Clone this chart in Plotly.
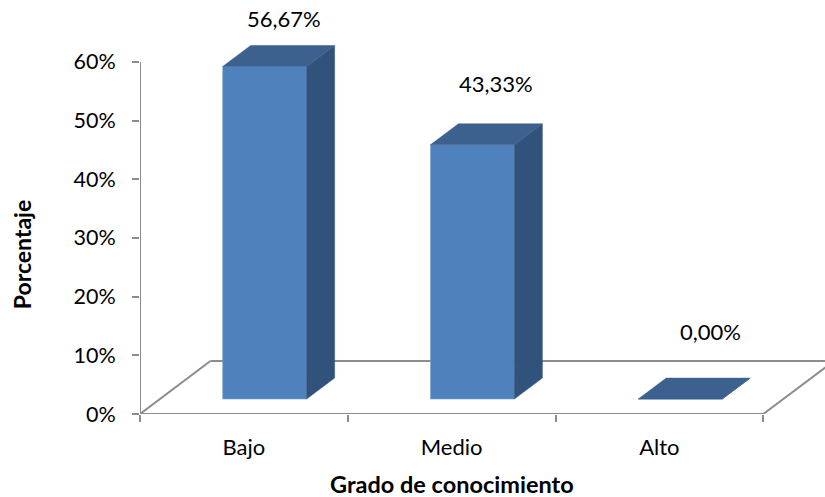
import plotly.graph_objects as go

categories = ["Bajo", "Medio", "Alto"]
values = [56.67, 43.33, 0.0]
value_labels = ["56,67%", "43,33%", "0,00%"]
y_ticks = [0, 10, 20, 30, 40, 50, 60]
y_tick_labels = ["0%", "10%", "20%", "30%", "40%", "50%", "60%"]
x_title = "Grado de conocimiento"
y_title = "Porcentaje"

FONT = "Lato, Carlito, Calibri, sans-serif"
GREY = "#8C8C8C"
FRONT = "#4F81BD"
SIDE = "#31527A"
TOP = "#3C618F"

# projection of the oblique 3D look, in axis units
FLOOR_DX, FLOOR_DY = 0.339, 9.02
BAR_DX, BAR_DY = 0.1347, 3.57
BAR_LIFT = 2.55
BAR_LEFT, BAR_W = 0.398, 0.404
LABEL_SHIFT_Y = [27, 40, 47]
LABEL_SHIFT_X = [-4, 0, 7]
X_MAX, Y_MAX = 3.297, 70.55

fig = go.Figure()

lefts = [i + BAR_LEFT for i in range(len(categories))]
rights = [l + BAR_W for l in lefts]

fig.add_trace(go.Bar(
    x=[l + BAR_W / 2 for l in lefts], y=values, base=[BAR_LIFT] * len(values),
    width=[BAR_W] * len(values), marker=dict(color=FRONT, line=dict(color="#7FA3D0", width=0.6)),
    hoverinfo="skip", showlegend=False))

for l, r, v in zip(lefts, rights, values):
    t = BAR_LIFT + v
    fig.add_trace(go.Scatter(
        x=[r, r + BAR_DX, r + BAR_DX, r, r], y=[BAR_LIFT, BAR_LIFT + BAR_DY, t + BAR_DY, t, BAR_LIFT],
        mode="lines", fill="toself", fillcolor=SIDE, line=dict(color=SIDE, width=0.5),
        hoverinfo="skip", showlegend=False))
    fig.add_trace(go.Scatter(
        x=[l, l + BAR_DX, r + BAR_DX, r, l], y=[t, t + BAR_DY, t + BAR_DY, t, t],
        mode="lines", fill="toself", fillcolor=TOP, line=dict(color=TOP, width=0.5),
        hoverinfo="skip", showlegend=False))

n = len(categories)
line = dict(color=GREY, width=2)
shapes = [
    dict(type="line", layer="below", x0=0, y0=0, x1=FLOOR_DX, y1=FLOOR_DY, line=line),
    dict(type="line", layer="below", x0=FLOOR_DX, y0=FLOOR_DY, x1=X_MAX, y1=FLOOR_DY, line=line),
    dict(type="line", layer="below", x0=n, y0=0, x1=n + FLOOR_DX, y1=FLOOR_DY, line=line),
    dict(type="line", layer="below", x0=0, y0=0, x1=n, y1=0, line=line),
    dict(type="line", layer="below", x0=0, y0=0, x1=0, y1=max(y_ticks), line=line),
]

annotations = [
    dict(x=l + BAR_W / 2 + BAR_DX * 0.85, y=BAR_LIFT + v + BAR_DY, text=s,
         xshift=sx, yshift=sy, yanchor="middle",
         showarrow=False, font=dict(family=FONT, size=22, color="#000000"))
    for l, v, s, sx, sy in zip(lefts, values, value_labels, LABEL_SHIFT_X, LABEL_SHIFT_Y)
]
annotations += [
    dict(xref="paper", yref="paper", x=(451.5 - 139.5) / 685.5, y=(414.5 - 485) / 414.5, text=f"<b>{x_title}</b>",
         xanchor="center", yanchor="middle", showarrow=False, font=dict(family=FONT, size=23.5, color="#000000")),
    dict(xref="paper", yref="paper", x=(21 - 139.5) / 685.5, y=(414.5 - 255) / 414.5, text=f"<b>{y_title}</b>",
         xanchor="center", yanchor="middle", textangle=-90, showarrow=False,
         font=dict(family=FONT, size=23, color="#000000")),
]

fig.update_layout(
    width=825, height=497, autosize=False, showlegend=False,
    margin=dict(l=139.5, r=0, t=0, b=82.5, autoexpand=False),
    paper_bgcolor="white", plot_bgcolor="white", shapes=shapes, annotations=annotations,
    xaxis=dict(range=[0, X_MAX], tickmode="array", tickvals=[i + 0.5 for i in range(n)], ticktext=categories,
               ticks="", showgrid=False, zeroline=False, showline=False, ticklabelstandoff=18,
               tickfont=dict(family=FONT, size=22, color="#000000"),
               minor=dict(tickmode="array", tickvals=list(range(n + 1)), ticks="outside", ticklen=7,
                          tickcolor=GREY, tickwidth=2, showgrid=False)),
    yaxis=dict(range=[0, Y_MAX], tickmode="array", tickvals=y_ticks, ticktext=y_tick_labels,
               ticks="outside", ticklen=7, tickcolor=GREY, tickwidth=2, showgrid=False, zeroline=False,
               showline=False, ticklabelstandoff=12,
               tickfont=dict(family=FONT, size=21.5, color="#000000")),
)

fig.write_html(
    "out.html",
    config={"displayModeBar": False},
    post_script="document.documentElement.style.overflow='hidden';document.body.style.margin='0';",
)
